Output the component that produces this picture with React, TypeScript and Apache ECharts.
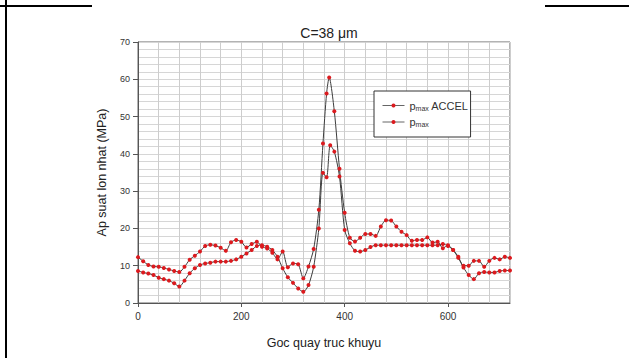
import React, { useEffect, useRef } from "react";
import * as echarts from "echarts";

const titleText = "C=38 μm";
const xAxisName = "Goc quay truc khuyu";
const yAxisName = "Ap suat lon nhat (MPa)";
const seriesNames = ["pmax ACCEL", "pmax"];

const anglesAccel = [0,10,20,30,40,50,60,70,80,90,100,110,120,130,140,150,160,170,180,190,200,210,220,230,240,250,260,270,280,290,300,310,320,330,340,350,358,365,370,380,390,400,410,420,430,440,450,460,470,480,490,500,510,520,530,540,550,560,570,580,590,600,610,620,630,640,650,660,670,680,690,700,710,720];
const pmaxAccel = [12.3,11.2,10.2,9.8,9.7,9.4,9.0,8.6,8.3,9.7,11.6,12.7,13.8,15.3,15.6,15.4,14.8,14.0,16.3,16.9,16.4,14.9,15.8,16.4,15.1,14.6,13.5,11.7,13.8,9.6,10.6,10.4,6.6,9.8,14.5,25.0,42.8,56.2,60.5,51.4,36.0,24.2,17.5,16.5,17.5,18.5,18.5,18.0,20.5,22.2,22.1,20.5,19.1,18.2,16.7,16.9,16.9,17.6,16.2,16.4,14.7,15.5,14.2,12.4,10.0,10.0,11.3,11.3,9.7,11.3,12.1,11.7,12.4,12.1];

const anglesBase = [0,10,20,30,40,50,60,70,80,90,100,110,120,130,140,150,160,170,180,190,200,210,220,230,240,250,260,270,280,290,300,310,320,330,340,350,358,365,372,380,390,400,410,420,430,440,450,460,470,480,490,500,510,520,530,540,550,560,570,580,590,600,610,620,630,640,650,660,670,680,690,700,710,720];
const pmaxBase = [8.6,8.2,7.9,7.5,6.8,6.4,6.0,5.3,4.4,6.0,8.0,9.3,10.2,10.6,10.8,11.1,11.1,11.1,11.3,11.7,12.4,13.3,14.2,15.3,15.5,15.1,14.2,12.4,9.3,6.9,5.4,3.9,3.0,4.8,9.7,20.0,34.9,33.7,42.3,40.6,33.9,19.6,16.0,14.0,13.8,14.2,15.0,15.5,15.5,15.5,15.5,15.5,15.5,15.5,15.5,15.5,15.5,15.5,15.5,15.5,15.8,15.3,14.2,12.1,9.5,7.5,6.4,8.0,8.3,8.2,8.2,8.6,8.7,8.7];

const xTickLabels = [0, 200, 400, 600];
const yTickLabels = [0, 10, 20, 30, 40, 50, 60, 70];

const FONT = "Liberation Sans, Arial, sans-serif";

export default function App() {
  const ref = useRef<HTMLDivElement>(null);
  useEffect(() => {
    if (!ref.current) return;
    const chart = echarts.init(ref.current, undefined, { renderer: "svg" });
    const lineStyle = { color: "#3c3c3c", width: 1 };
    const itemStyle = { color: "#dc1a1e" };
    const mk = (name: string, xs: number[], ys: number[]) => ({
      name,
      type: "line",
      xAxisIndex: 0,
      yAxisIndex: 0,
      data: xs.map((x, i) => [x, ys[i]]),
      symbol: "circle",
      symbolSize: 4,
      smooth: 0.25,
      lineStyle,
      itemStyle,
      emphasis: { disabled: true },
    });
    chart.setOption({
      animation: false,
      textStyle: { fontFamily: FONT },
      title: {
        text: titleText,
        left: 324,
        textAlign: "center",
        top: 21,
        textStyle: { fontFamily: FONT, fontSize: 14, fontWeight: "normal", color: "#222" },
      },
      legend: {
        left: 374,
        top: 91,
        orient: "vertical",
        backgroundColor: "#fff",
        borderColor: "#333",
        borderWidth: 1,
        borderRadius: 0,
        padding: [9, 2, 9, 8],
        itemGap: 5,
        itemWidth: 22,
        itemHeight: 5,
        lineStyle: { width: 1, color: "#666" },
        data: seriesNames,
        formatter: (name: string) =>
          name === seriesNames[0] ? "{a|p}{s|max}{a| ACCEL}" : "{a|p}{s|max}",
        textStyle: {
          fontFamily: FONT,
          color: "#333",
          rich: {
            a: { fontFamily: FONT, fontSize: 11, color: "#333", lineHeight: 14 },
            s: { fontFamily: FONT, fontSize: 7, color: "#333", padding: [5, 0, 0, 0] },
          },
        },
      },
      grid: {
        left: 138,
        right: 119,
        top: 42,
        bottom: 55,
        show: true,
        borderColor: "#666",
        borderWidth: 1,
        backgroundColor: "transparent",
      },
      xAxis: [
        {
          type: "value",
          min: 0,
          max: 720,
          interval: 40,
          axisLine: { show: true, lineStyle: { color: "#555" } },
          axisTick: { show: false },
          axisLabel: { show: false },
          splitLine: { show: true, lineStyle: { color: "#cdcdcd", width: 1 } },
        },
        {
          type: "value",
          position: "bottom",
          min: 0,
          max: 720,
          interval: 200,
          name: xAxisName,
          nameLocation: "middle",
          nameGap: 33,
          nameTextStyle: { fontFamily: FONT, fontSize: 12.5, color: "#222" },
          axisLine: { show: false },
          axisTick: { show: true, inside: false, length: 4, lineStyle: { color: "#555" } },
          axisLabel: {
            show: true,
            margin: 8,
            fontFamily: FONT,
            fontSize: 10,
            color: "#333",
            showMaxLabel: false,
            formatter: (v: number) => (xTickLabels.includes(v) ? String(v) : ""),
          },
          splitLine: { show: false },
        },
      ],
      yAxis: [
        {
          type: "value",
          min: 0,
          max: 70,
          interval: 2,
          axisLine: { show: true, lineStyle: { color: "#555" } },
          axisTick: { show: false },
          axisLabel: { show: false },
          splitLine: { show: true, lineStyle: { color: "#d6d6d6", width: 1 } },
        },
        {
          type: "value",
          position: "left",
          min: 0,
          max: 70,
          interval: 10,
          name: yAxisName,
          nameLocation: "middle",
          nameGap: 30,
          nameRotate: 90,
          nameTextStyle: { fontFamily: FONT, fontSize: 12.5, color: "#222" },
          axisLine: { show: false },
          axisTick: { show: true, inside: false, length: 5, lineStyle: { color: "#555" } },
          axisLabel: {
            show: true,
            margin: 8,
            fontFamily: FONT,
            fontSize: 9,
            color: "#333",
            formatter: (v: number) => (yTickLabels.includes(v) ? String(v) : ""),
          },
          splitLine: { show: false },
        },
      ],
      graphic: [
        { type: "line", shape: { x1: 6, y1: 0, x2: 6, y2: 358 }, style: { stroke: "#000", lineWidth: 2 } },
        { type: "line", shape: { x1: 0, y1: 6, x2: 92, y2: 6 }, style: { stroke: "#000", lineWidth: 2 } },
        { type: "line", shape: { x1: 545, y1: 6, x2: 629, y2: 6 }, style: { stroke: "#000", lineWidth: 2 } },
      ],
      series: [mk(seriesNames[0], anglesAccel, pmaxAccel), mk(seriesNames[1], anglesBase, pmaxBase)],
    });
    return () => chart.dispose();
  }, []);
  return (
    <div
      ref={ref}
      style={{ position: "fixed", left: 0, top: 0, width: 629, height: 358, background: "#fff" }}
    />
  );
}
